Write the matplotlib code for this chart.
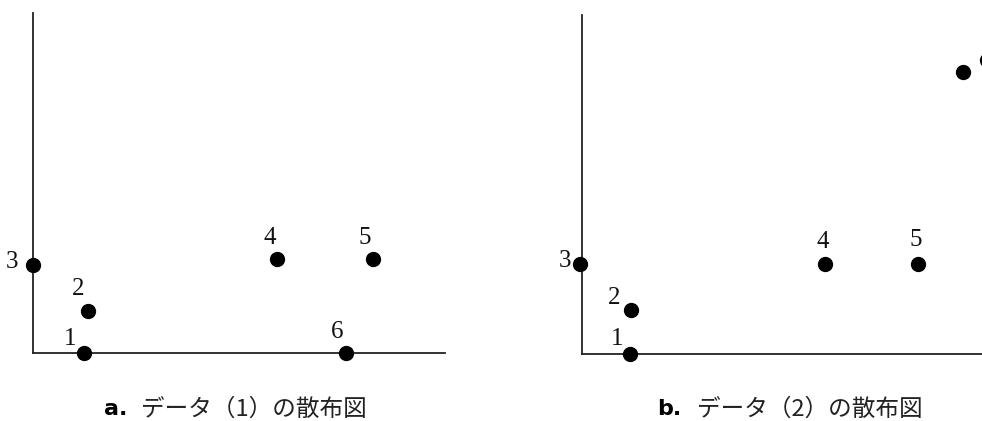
import matplotlib.pyplot as plt

plt.rcParams['font.family'] = ['Noto Sans CJK JP', 'DejaVu Sans']

# data (1)
x1 = [5.1, 5.5, 0.0, 24.4, 34.0, 31.3]
y1 = [0.0, 4.2, 8.8, 9.4, 9.4, 0.0]
lab1 = ['1', '2', '3', '4', '5', '6']
# label offsets in points
off1 = [(-10, 10), (-7, 16), (-15, 2), (-5, 15), (-6, 15), (-6.5, 15)]

# data (2)
x2 = [4.8, 4.9, -0.2, 24.3, 33.6, 38.1, 40.5]
y2 = [0.0, 4.4, 9.0, 9.0, 9.0, 28.2, 29.4]
lab2 = ['1', '2', '3', '4', '5', '', '']
off2 = [(-9.5, 11), (-12, 9), (-11, 2), (-1.5, 16), (-1.5, 17), (0, 0), (0, 0)]

cap1 = 'データ（1）の散布図'
cap2 = 'データ（2）の散布図'

W, H = 982, 421
fig = plt.figure(figsize=(W / 100, H / 100), dpi=100)

def make_axes(left, bottom, width, height, xmax, ymax):
    ax = fig.add_axes([left / W, bottom / H, width / W, height / H])
    ax.set_xlim(0, xmax)
    ax.set_ylim(0, ymax)
    for s in ['top', 'right']:
        ax.spines[s].set_visible(False)
    for s in ['left', 'bottom']:
        ax.spines[s].set_linewidth(1.3)
        ax.spines[s].set_color('#222222')
    ax.set_xticks([])
    ax.set_yticks([])
    ax.patch.set_alpha(0)
    return ax

ax1 = make_axes(33, H - 353, 412, 340, 41.2, 34.0)
ax2 = make_axes(582, H - 354, 450, 339, 45.0, 33.9)

for ax, xs, ys, labs, offs in [(ax1, x1, y1, lab1, off1), (ax2, x2, y2, lab2, off2)]:
    ax.scatter(xs, ys, s=100, color='black', clip_on=False, zorder=3)
    for x, y, t, o in zip(xs, ys, labs, offs):
        if t:
            ax.annotate(t, (x, y), xytext=o, textcoords='offset points',
                        ha='center', va='center', fontsize=18,
                        family='Liberation Serif', color='#111111',
                        annotation_clip=False)

# captions
fig.text(104 / W, 0.028, 'a.', fontsize=16, fontweight='bold',
         family='DejaVu Sans', va='center', ha='left')
fig.text(141 / W, 0.028, cap1, fontsize=17, va='center', ha='left',
         color='#222222')
fig.text(657 / W, 0.028, 'b.', fontsize=16, fontweight='bold',
         family='DejaVu Sans', va='center', ha='left')
fig.text(697 / W, 0.028, cap2, fontsize=17, va='center', ha='left',
         color='#222222')

fig.savefig('out.png', dpi=100)
